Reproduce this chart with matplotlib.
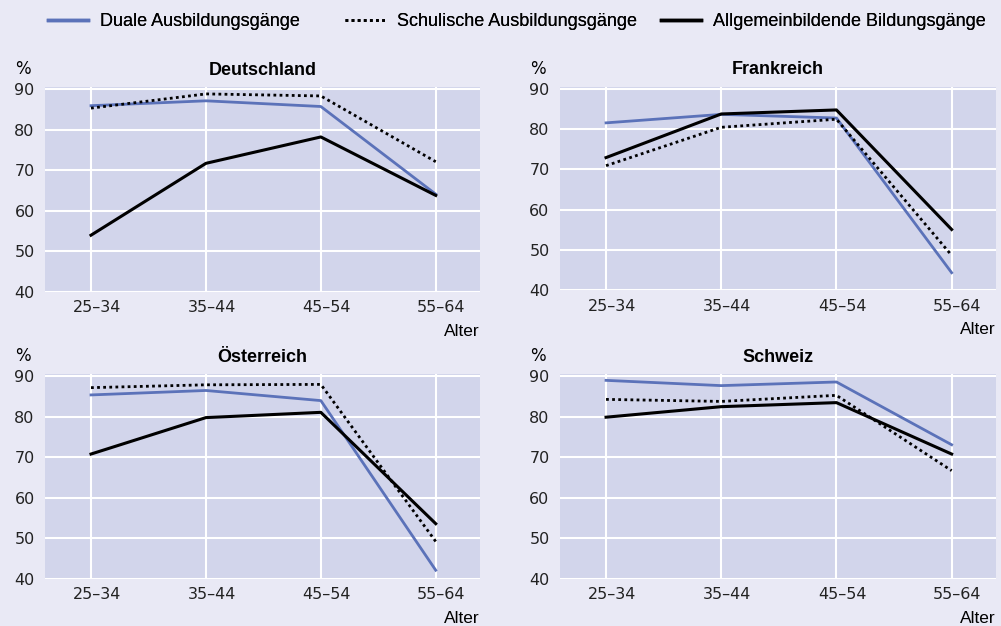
import matplotlib.pyplot as plt
from matplotlib.lines import Line2D

# Alter groups on the x axis
alter = ['25–34', '35–44', '45–54', '55–64']

countries = ['Deutschland', 'Frankreich', 'Österreich', 'Schweiz']

# % values per country
duale = {
    'Deutschland': [85.9, 87.1, 85.7, 64.1],
    'Frankreich': [81.5, 83.6, 82.7, 44.4],
    'Österreich': [85.4, 86.5, 84.0, 42.1],
    'Schweiz': [89.0, 87.7, 88.6, 73.1],
}
schulische = {
    'Deutschland': [85.3, 88.8, 88.3, 72.1],
    'Frankreich': [70.9, 80.4, 82.4, 48.7],
    'Österreich': [87.2, 87.9, 88.0, 49.2],
    'Schweiz': [84.3, 83.8, 85.3, 66.7],
}
allgemein = {
    'Deutschland': [54.0, 71.7, 78.2, 63.8],
    'Frankreich': [72.9, 83.7, 84.7, 55.1],
    'Österreich': [70.8, 79.8, 81.1, 53.6],
    'Schweiz': [79.9, 82.5, 83.5, 70.8],
}

yticks = [40, 50, 60, 70, 80, 90]

BG = '#e9e9f5'
AX_BG = '#d2d5eb'
BLUE = '#5b72b9'
FONT = 'DejaVu Sans'
SANS = 'Liberation Sans'

fig = plt.figure(figsize=(10.01, 6.26), dpi=100, facecolor=BG)

positions = [
    [0.045, 0.5335, 0.4345, 0.3275],
    [0.5594, 0.536, 0.4356, 0.3258],
    [0.045, 0.0755, 0.4345, 0.3266],
    [0.5594, 0.0755, 0.4356, 0.3266],
]

for name, pos in zip(countries, positions):
    ax = fig.add_axes(pos)
    ax.set_facecolor(AX_BG)
    x = list(range(len(alter)))
    ax.plot(x, duale[name], color=BLUE, lw=2.0, zorder=3)
    ax.plot(x, schulische[name], color='black', lw=2.0, ls=(0, (1, 1.2)), zorder=3)
    ax.plot(x, allgemein[name], color='black', lw=2.2, zorder=4)

    ax.set_xlim(-0.4, 3.385)
    ax.set_ylim(40, 90.5)
    # grid lines sit on the categories, labels a bit to the right
    ax.set_xticks(x, minor=True)
    ax.set_xticks([i + 0.05 for i in x])
    ax.set_xticklabels(alter, fontsize=11.5, family=FONT, color='#222222')
    ax.set_yticks(yticks)
    ax.set_yticklabels([str(v) for v in yticks], fontsize=11.5, family=FONT, color='#222222')
    ax.tick_params(which='both', length=0)
    ax.tick_params(axis='y', pad=7.5)
    ax.tick_params(axis='x', pad=6)
    ax.grid(True, axis='y', color='white', lw=1.5)
    ax.grid(True, axis='x', which='minor', color='white', lw=1.5)
    ax.set_axisbelow(True)
    for sp in ax.spines.values():
        sp.set_visible(False)

    ax.set_title(name, fontsize=13, fontweight='bold', family=SANS, pad=9)
    ax.text(-0.05, 1.088, '%', transform=ax.transAxes, fontsize=12, family=FONT,
            ha='center', va='center')
    ax.text(1.0, -0.215, 'Alter', transform=ax.transAxes, fontsize=12.5, family=SANS,
            ha='right', va='baseline')

handles = [
    Line2D([], [], color=BLUE, lw=2.5),
    Line2D([], [], color='black', lw=2.0, ls=(0, (1, 1.2))),
    Line2D([], [], color='black', lw=2.5),
]
labels = ['Duale Ausbildungsgänge', 'Schulische Ausbildungsgänge', 'Allgemeinbildende Bildungsgänge']
starts = [48 / 1001, 345 / 1001, 661 / 1001]
for h, lab, x0 in zip(handles, labels, starts):
    leg = fig.legend([h], [lab], loc='center left', bbox_to_anchor=(x0, 0.965),
                     frameon=False, handlelength=2.2, handletextpad=0.7,
                     borderpad=0, borderaxespad=0, prop={'family': SANS, 'size': 13})
    fig.add_artist(leg)

fig.savefig('out.png', dpi=100, facecolor=BG)
